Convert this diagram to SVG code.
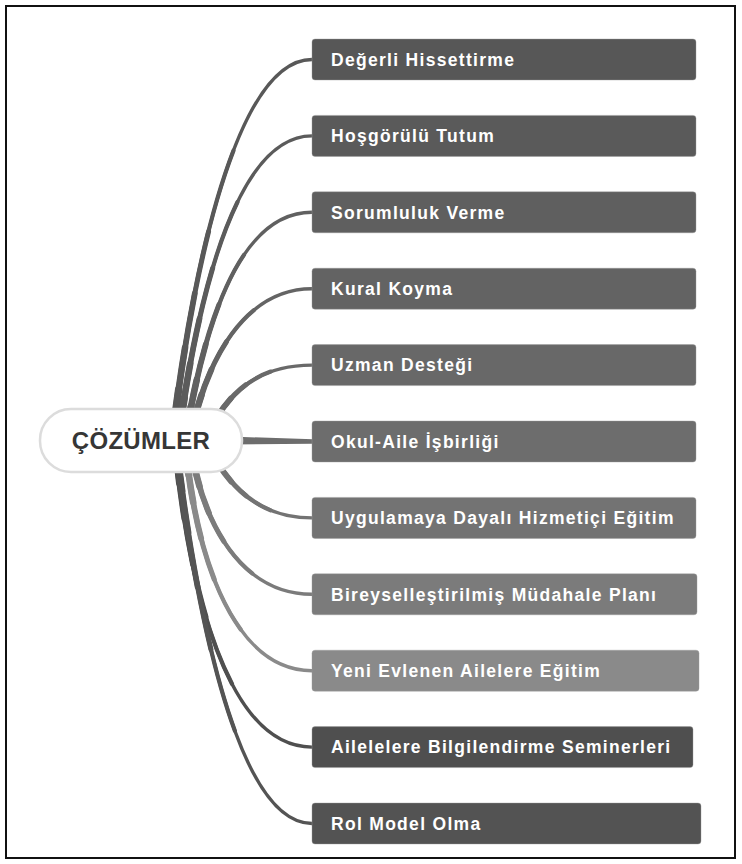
<svg xmlns="http://www.w3.org/2000/svg" xmlns:xlink="http://www.w3.org/1999/xlink" width="742" height="864" viewBox="0 0 742 864">
  <style>
    .frame { fill: #ffffff; stroke: #111111; stroke-width: 2; }
    .box { stroke: #9a9a9a; stroke-opacity: 0.5; stroke-width: 0.8; }
    .lbl { font-family: "Liberation Sans", Arial, sans-serif; font-weight: bold; font-size: 17.5px; letter-spacing: 1.3px; fill: #ffffff; }
    .root-shape { fill: #ffffff; stroke: #dcdcdc; stroke-width: 2.5; }
    .root-lbl { font-family: "Liberation Sans", Arial, sans-serif; font-weight: bold; font-size: 24px; letter-spacing: 0.3px; fill: #363636; }
    .c1 { fill: none; stroke-width: 3.4; stroke-linecap: round; }
    .c2 { fill: none; stroke-width: 4.2; stroke-linecap: round; stroke-dasharray: 70 200; }
    .c3 { fill: none; stroke-width: 5.0; stroke-linecap: round; stroke-dasharray: 50 200; }
    .c4 { fill: none; stroke-width: 5.8; stroke-linecap: round; stroke-dasharray: 35 200; }
    .c5 { fill: none; stroke-width: 6.6; stroke-linecap: round; stroke-dasharray: 22 200; }
    .c6 { fill: none; stroke-width: 7.4; stroke-linecap: round; stroke-dasharray: 12 200; }
  </style>
  <defs>
    <path id="p1" pathLength="100" d="M172,440 C195,250 240,59.5 312,59.5"/>
    <path id="p2" pathLength="100" d="M178,440 C200,280 240,135.9 312,135.9"/>
    <path id="p3" pathLength="100" d="M185,440 C205,320 240,212.3 312,212.3"/>
    <path id="p4" pathLength="100" d="M190,440 C205,360 245,288.7 312,288.7"/>
    <path id="p5" pathLength="100" d="M205,440 C225,395 255,365.1 312,365.1"/>
    <path id="p7" pathLength="100" d="M205,440 C225,482 255,517.9 312,517.9"/>
    <path id="p8" pathLength="100" d="M190,440 C200,520 240,594.3 312,594.3"/>
    <path id="p9" pathLength="100" d="M185,440 C195,560 235,670.7 312,670.7"/>
    <path id="p10" pathLength="100" d="M175,440 C190,600 230,747.1 312,747.1"/>
    <path id="p11" pathLength="100" d="M175,440 C195,600 235,823.5 312,823.5"/>
  </defs>

  <rect class="frame" x="6" y="6" width="729" height="852"/>

  <g id="connectors">
    <g stroke="#585858"><use xlink:href="#p1" class="c1"/><use xlink:href="#p1" class="c2"/><use xlink:href="#p1" class="c3"/><use xlink:href="#p1" class="c4"/><use xlink:href="#p1" class="c5"/><use xlink:href="#p1" class="c6"/></g>
    <g stroke="#5b5b5b"><use xlink:href="#p2" class="c1"/><use xlink:href="#p2" class="c2"/><use xlink:href="#p2" class="c3"/><use xlink:href="#p2" class="c4"/><use xlink:href="#p2" class="c5"/><use xlink:href="#p2" class="c6"/></g>
    <g stroke="#606060"><use xlink:href="#p3" class="c1"/><use xlink:href="#p3" class="c2"/><use xlink:href="#p3" class="c3"/><use xlink:href="#p3" class="c4"/><use xlink:href="#p3" class="c5"/><use xlink:href="#p3" class="c6"/></g>
    <g stroke="#646464"><use xlink:href="#p4" class="c1"/><use xlink:href="#p4" class="c2"/><use xlink:href="#p4" class="c3"/><use xlink:href="#p4" class="c4"/><use xlink:href="#p4" class="c5"/><use xlink:href="#p4" class="c6"/></g>
    <g stroke="#696969"><use xlink:href="#p5" class="c1"/><use xlink:href="#p5" class="c2"/><use xlink:href="#p5" class="c3"/><use xlink:href="#p5" class="c4"/><use xlink:href="#p5" class="c5"/><use xlink:href="#p5" class="c6"/></g>
    <path d="M230,436.5 L313,439.3 L313,443.7 L230,444.5 Z" fill="#6d6d6d"/>
    <g stroke="#737373"><use xlink:href="#p7" class="c1"/><use xlink:href="#p7" class="c2"/><use xlink:href="#p7" class="c3"/><use xlink:href="#p7" class="c4"/><use xlink:href="#p7" class="c5"/><use xlink:href="#p7" class="c6"/></g>
    <g stroke="#7b7b7b"><use xlink:href="#p8" class="c1"/><use xlink:href="#p8" class="c2"/><use xlink:href="#p8" class="c3"/><use xlink:href="#p8" class="c4"/><use xlink:href="#p8" class="c5"/><use xlink:href="#p8" class="c6"/></g>
    <g stroke="#8a8a8a"><use xlink:href="#p9" class="c1"/><use xlink:href="#p9" class="c2"/><use xlink:href="#p9" class="c3"/><use xlink:href="#p9" class="c4"/><use xlink:href="#p9" class="c5"/><use xlink:href="#p9" class="c6"/></g>
    <g stroke="#4f4f4f"><use xlink:href="#p10" class="c1"/><use xlink:href="#p10" class="c2"/><use xlink:href="#p10" class="c3"/><use xlink:href="#p10" class="c4"/><use xlink:href="#p10" class="c5"/><use xlink:href="#p10" class="c6"/></g>
    <g stroke="#545454"><use xlink:href="#p11" class="c1"/><use xlink:href="#p11" class="c2"/><use xlink:href="#p11" class="c3"/><use xlink:href="#p11" class="c4"/><use xlink:href="#p11" class="c5"/><use xlink:href="#p11" class="c6"/></g>
  </g>

  <g id="root">
    <rect class="root-shape" x="40" y="409" width="202" height="63" rx="31" ry="31"/>
    <text class="root-lbl" x="141" y="449" text-anchor="middle">ÇÖZÜMLER</text>
  </g>

  <g id="n1"><rect class="box" x="312" y="39" width="384" height="41" rx="3" fill="#575757"/><text class="lbl" x="331" y="65.7">Değerli Hissettirme</text></g>
  <g id="n2"><rect class="box" x="312" y="115.4" width="384" height="41" rx="3" fill="#5a5a5a"/><text class="lbl" x="331" y="142.1">Hoşgörülü Tutum</text></g>
  <g id="n3"><rect class="box" x="312" y="191.8" width="384" height="41" rx="3" fill="#5f5f5f"/><text class="lbl" x="331" y="218.5">Sorumluluk Verme</text></g>
  <g id="n4"><rect class="box" x="312" y="268.2" width="384" height="41" rx="3" fill="#636363"/><text class="lbl" x="331" y="294.9">Kural Koyma</text></g>
  <g id="n5"><rect class="box" x="312" y="344.6" width="384" height="41" rx="3" fill="#686868"/><text class="lbl" x="331" y="371.3">Uzman Desteği</text></g>
  <g id="n6"><rect class="box" x="312" y="421" width="384" height="41" rx="3" fill="#6d6d6d"/><text class="lbl" x="331" y="447.7">Okul-Aile İşbirliği</text></g>
  <g id="n7"><rect class="box" x="312" y="497.4" width="384" height="41" rx="3" fill="#737373"/><text class="lbl" x="331" y="524.1">Uygulamaya Dayalı Hizmetiçi Eğitim</text></g>
  <g id="n8"><rect class="box" x="312" y="573.8" width="385" height="41" rx="3" fill="#7b7b7b"/><text class="lbl" x="331" y="600.5">Bireyselleştirilmiş Müdahale Planı</text></g>
  <g id="n9"><rect class="box" x="312" y="650.2" width="387" height="41" rx="3" fill="#8a8a8a"/><text class="lbl" x="331" y="676.9">Yeni Evlenen Ailelere Eğitim</text></g>
  <g id="n10"><rect class="box" x="312" y="726.6" width="381" height="41" rx="3" fill="#4f4f4f"/><text class="lbl" x="331" y="753.3">Ailelelere Bilgilendirme Seminerleri</text></g>
  <g id="n11"><rect class="box" x="312" y="803" width="389" height="41" rx="3" fill="#535353"/><text class="lbl" x="331" y="829.7">Rol Model Olma</text></g>
</svg>
